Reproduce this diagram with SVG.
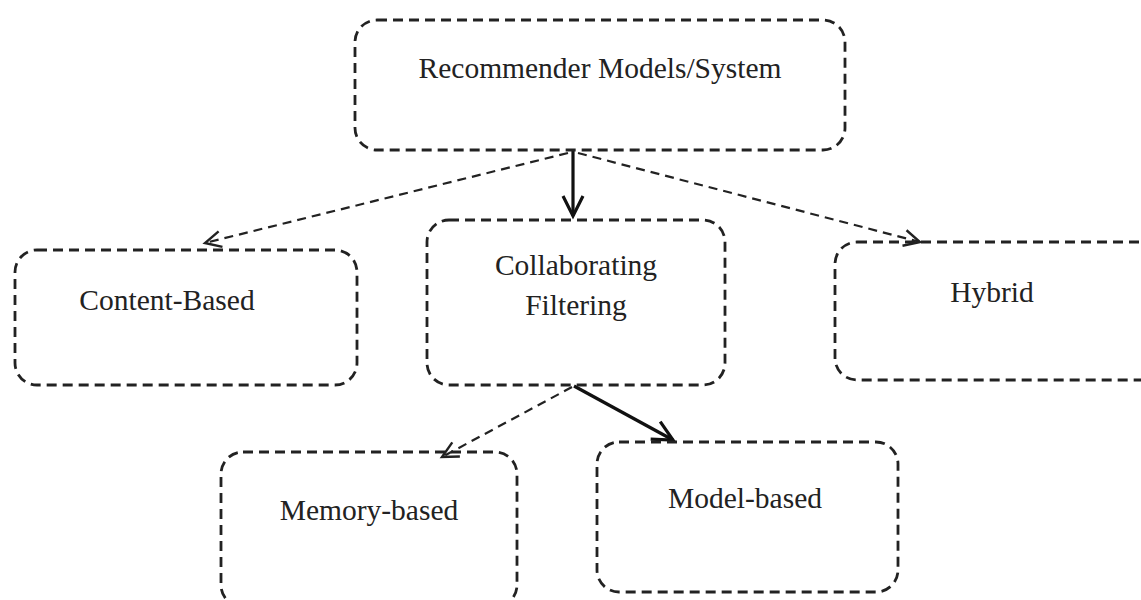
<svg xmlns="http://www.w3.org/2000/svg" width="1141" height="600" viewBox="0 0 1141 600">
<style>
.box{fill:none;stroke:#222;stroke-width:2.8;stroke-dasharray:10 6}
.lbl{font-family:"Liberation Serif","Times New Roman",serif;font-size:29.5px;fill:#222;text-anchor:middle}
.dash{fill:none;stroke:#222;stroke-width:2.2;stroke-dasharray:9 6}
.solid{fill:none;stroke:#111;stroke-width:3.2}
</style>
<defs>
<marker id="openD" markerUnits="userSpaceOnUse" markerWidth="24" markerHeight="24" refX="18" refY="10" orient="auto" viewBox="0 0 24 20">
<path d="M2,2 L18,10 L2,18" fill="none" stroke="#222" stroke-width="2.4"/>
</marker>
<marker id="openS" markerUnits="userSpaceOnUse" markerWidth="28" markerHeight="28" refX="22" refY="12" orient="auto" viewBox="0 0 28 24">
<path d="M2,2 L22,12 L2,22" fill="none" stroke="#111" stroke-width="3.2"/>
</marker>
</defs>
<rect width="1141" height="600" fill="#fff"/>
<g id="connectors">
<line class="solid" x1="573" y1="150" x2="573" y2="216" marker-end="url(#openS)"/>
<line class="dash" x1="568" y1="153" x2="205" y2="243" marker-end="url(#openD)"/>
<line class="dash" x1="578" y1="153" x2="920" y2="242" marker-end="url(#openD)"/>
<line class="dash" x1="572" y1="387" x2="442" y2="457" marker-end="url(#openD)"/>
<line class="solid" x1="574" y1="386" x2="673" y2="440" marker-end="url(#openS)"/>
</g>
<g id="recommender">
<rect class="box" x="355" y="20" width="490" height="130" rx="22"/>
<text class="lbl" x="600" y="78">Recommender Models/System</text>
</g>
<g id="content-based">
<rect class="box" x="15" y="250" width="342" height="135" rx="22"/>
<text class="lbl" x="167" y="310">Content-Based</text>
</g>
<g id="collaborating">
<rect class="box" x="427" y="220" width="298" height="165" rx="22"/>
<text class="lbl" x="576" y="275">Collaborating</text>
<text class="lbl" x="576" y="315">Filtering</text>
</g>
<g id="hybrid">
<rect class="box" x="835" y="242" width="330" height="138" rx="22"/>
<text class="lbl" x="992" y="302">Hybrid</text>
</g>
<g id="memory-based">
<rect class="box" x="221" y="452" width="296" height="155" rx="22"/>
<text class="lbl" x="369" y="520">Memory-based</text>
</g>
<g id="model-based">
<rect class="box" x="597" y="442" width="301" height="150" rx="22"/>
<text class="lbl" x="745" y="508">Model-based</text>
</g>
</svg>
